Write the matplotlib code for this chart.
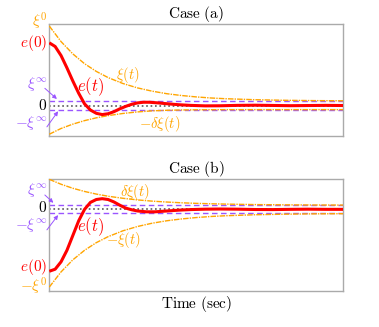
import numpy as np
import matplotlib
matplotlib.use("Agg")
import matplotlib.pyplot as plt

plt.rcParams['mathtext.fontset'] = 'cm'
plt.rcParams['font.family'] = 'serif'
plt.rcParams['font.serif'] = ['DejaVu Serif']

# ---- data (time in sec, values in units of xi^0) ----
xi_inf = 0.05

t_env = [0, 0.4, 0.8, 1.2, 1.6, 2.0, 2.5, 3.0, 3.5, 4.0, 4.5, 5.0, 5.5, 6.0, 7.0, 8.0, 9.0, 10.0]

# case (a)
xi_a = [0.97, 0.78, 0.63, 0.51, 0.416, 0.341, 0.269, 0.215, 0.175, 0.144, 0.122,
        0.105, 0.092, 0.083, 0.071, 0.064, 0.060, 0.058]
dxi_a = [-0.35, -0.28, -0.227, -0.184, -0.15, -0.123, -0.097, -0.078, -0.065, -0.058,
         -0.054, -0.052, -0.051, -0.05, -0.05, -0.05, -0.05, -0.05]
t_e_a = [0, 0.2, 0.4, 0.6, 0.8, 1.0, 1.2, 1.4, 1.6, 1.8, 2.0, 2.2, 2.4, 2.6, 2.8, 3.0,
         3.2, 3.4, 3.7, 4.0, 4.4, 4.8, 5.3, 5.8, 6.4, 7.0, 7.6, 8.2, 8.8, 9.4, 10.0]
e_a = [0.765, 0.72, 0.61, 0.46, 0.30, 0.15, 0.02, -0.055, -0.095, -0.11, -0.10, -0.075,
       -0.04, -0.01, 0.015, 0.032, 0.04, 0.04, 0.032, 0.022, 0.01, 0.002, -0.004, -0.003,
       0.002, 0.004, 0.001, -0.002, 0.0, 0.002, 0.0]

# case (b)
dxi_b = [0.366, 0.306, 0.257, 0.218, 0.186, 0.160, 0.135, 0.115, 0.100, 0.089, 0.080,
         0.073, 0.068, 0.064, 0.058, 0.055, 0.053, 0.052]
xi_b = [-0.948, -0.763, -0.616, -0.499, -0.406, -0.333, -0.262, -0.209, -0.169, -0.139,
        -0.117, -0.100, -0.087, -0.078, -0.066, -0.059, -0.055, -0.053]
t_e_b = [0, 0.2, 0.4, 0.6, 0.8, 1.0, 1.2, 1.4, 1.6, 1.8, 2.0, 2.2, 2.4, 2.6, 2.8, 3.0,
         3.3, 3.6, 4.0, 4.4, 4.8, 5.3, 5.8, 6.4, 7.0, 7.6, 8.2, 8.8, 9.4, 10.0]
e_b = [-0.755, -0.73, -0.64, -0.5, -0.32, -0.14, 0.0, 0.085, 0.12, 0.13, 0.12, 0.09,
       0.05, 0.015, -0.005, -0.02, -0.03, -0.03, -0.02, -0.01, -0.003, 0.002, 0.004,
       0.002, -0.002, -0.003, 0.0, 0.002, 0.0, 0.0]

RED = '#ff0000'
ORANGE = '#ffa500'
PURPLE = '#9a55ff'
orange_ls = (0, (4, 0.8, 1, 0.8))

fig = plt.figure(figsize=(3.79, 3.27), dpi=100)
ax_a = fig.add_axes([0.130, 0.584, 0.776, 0.3425])
ax_b = fig.add_axes([0.130, 0.110, 0.776, 0.3416])


def base(ax, ylim, title):
    ax.axhline(0, color='0.35', ls=':', lw=1.2, zorder=1)
    ax.axhline(xi_inf, color=PURPLE, ls='--', lw=1.0, dashes=(4, 2.5), zorder=2)
    ax.axhline(-xi_inf, color=PURPLE, ls='--', lw=1.0, dashes=(4, 2.5), zorder=2)
    ax.set_xlim(0, 10)
    ax.set_ylim(*ylim)
    ax.set_xticks([])
    ax.set_yticks([])
    for s in ax.spines.values():
        s.set_color('#aaaaaa')
        s.set_linewidth(1.0)
    ax.set_title(r'$\mathrm{' + title.replace(' ', r'\ ') + '}$', fontsize=11, pad=3)


def side(ax, y, s, color, fs=11):
    ax.text(-0.006, y, s, transform=ax.get_yaxis_transform(), ha='right', va='center',
            color=color, fontsize=fs, clip_on=False)


def arrow(ax, start, tip):
    ax.annotate('', xy=tip, xytext=start, xycoords='data', textcoords='data',
                annotation_clip=False,
                arrowprops=dict(arrowstyle='-|>', color=PURPLE, lw=0.7,
                                mutation_scale=6, shrinkA=0, shrinkB=0))


# ---- case (a) ----
base(ax_a, (-0.372, 0.994), 'Case (a)')
ax_a.plot(t_env, xi_a, color=ORANGE, lw=1.0, ls=orange_ls, zorder=3)
ax_a.plot(t_env, dxi_a, color=ORANGE, lw=1.0, ls=orange_ls, zorder=3)
ax_a.plot(t_e_a, e_a, color=RED, lw=2.2, zorder=4, solid_capstyle='butt')

side(ax_a, 1.02, r'$\xi^0$', ORANGE)
side(ax_a, 0.76, r'$e(0)$', RED)
side(ax_a, 0.0, r'$0$', 'black')
side(ax_a, 0.265, r'$\xi^\infty$', PURPLE)
side(ax_a, -0.21, r'$-\xi^\infty$', PURPLE)
arrow(ax_a, (-0.15, 0.21), (0.26, 0.08))
arrow(ax_a, (-0.08, -0.26), (0.3, -0.07))
ax_a.text(1.42, 0.225, r'$e(t)$', color=RED, fontsize=12, ha='center', va='center')
ax_a.text(2.68, 0.37, r'$\xi(t)$', color=ORANGE, fontsize=10.5, ha='center', va='center')
ax_a.text(3.77, -0.225, r'$-\delta\xi(t)$', color=ORANGE, fontsize=10.5,
          ha='center', va='center')

# ---- case (b) ----
base(ax_b, (-0.996, 0.366), 'Case (b)')
ax_b.plot(t_env, dxi_b, color=ORANGE, lw=1.0, ls=orange_ls, zorder=3)
ax_b.plot(t_env, xi_b, color=ORANGE, lw=1.0, ls=orange_ls, zorder=3)
ax_b.plot(t_e_b, e_b, color=RED, lw=2.2, zorder=4, solid_capstyle='butt')

side(ax_b, 0.02, r'$0$', 'black')
side(ax_b, -0.70, r'$e(0)$', RED)
side(ax_b, -0.94, r'$-\xi^0$', ORANGE)
side(ax_b, 0.235, r'$\xi^\infty$', PURPLE)
side(ax_b, -0.19, r'$-\xi^\infty$', PURPLE)
arrow(ax_b, (-0.15, 0.175), (0.14, 0.08))
arrow(ax_b, (-0.08, -0.25), (0.3, -0.07))
ax_b.text(1.4, -0.21, r'$e(t)$', color=RED, fontsize=12, ha='center', va='center')
ax_b.text(2.91, 0.215, r'$\delta\xi(t)$', color=ORANGE, fontsize=10.5,
          ha='center', va='center')
ax_b.text(2.51, -0.374, r'$-\xi(t)$', color=ORANGE, fontsize=10.5,
          ha='center', va='center')
ax_b.set_xlabel(r'$\mathrm{Time\ (sec)}$', fontsize=11, labelpad=2)

fig.savefig('out.png', dpi=100)
